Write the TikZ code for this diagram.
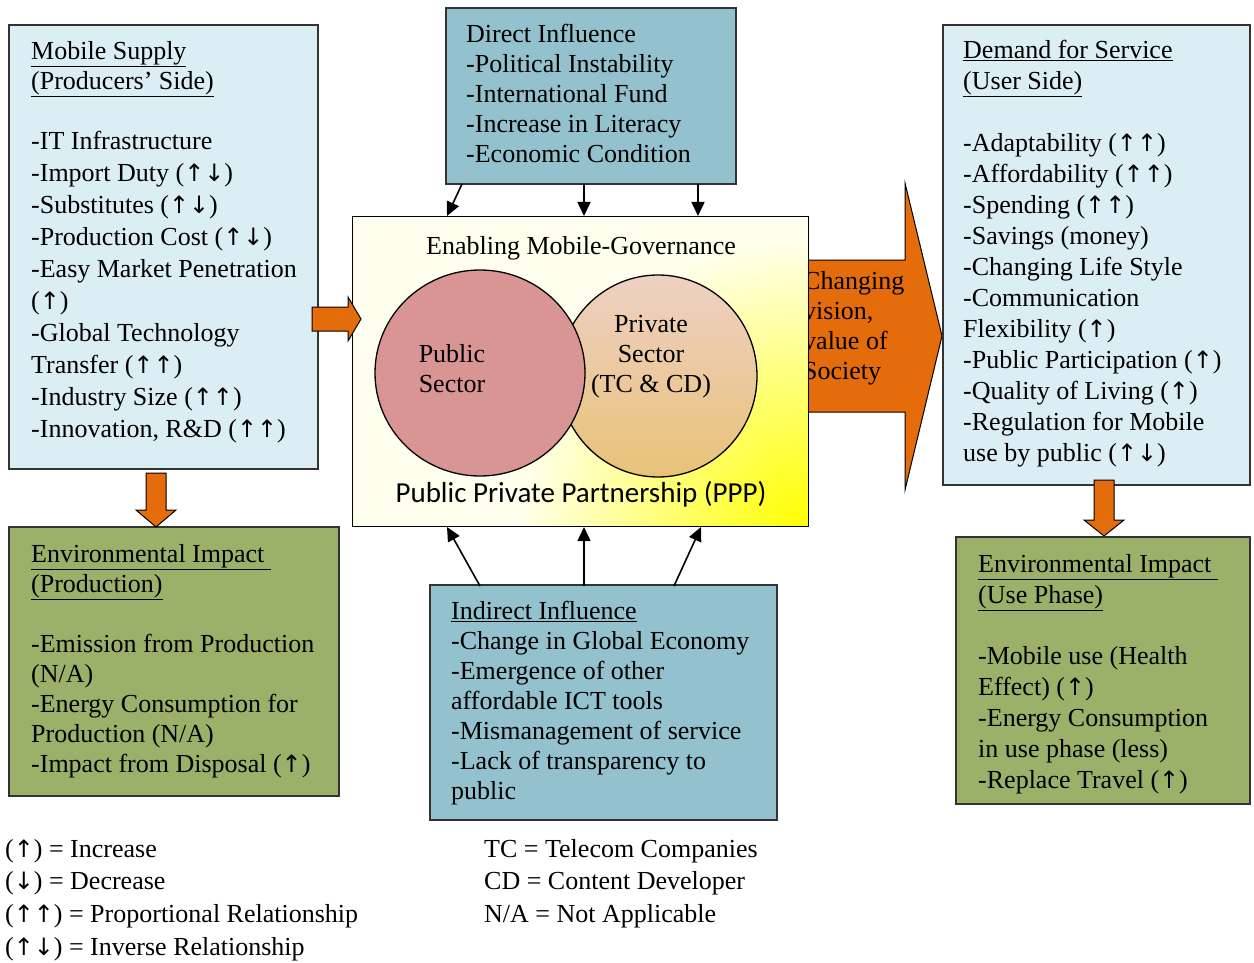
\documentclass[tikz,border=0pt]{standalone}
\usepackage{fontspec}
\setmainfont{Liberation Serif}
\newfontfamily\calib{Carlito}
\newfontfamily\arr{DejaVu Sans}[Scale=0.92]
\usetikzlibrary{arrows.meta}
\definecolor{lblue}{RGB}{219,238,243}
\definecolor{mblue}{RGB}{147,193,205}
\definecolor{olive}{RGB}{155,176,104}
\definecolor{orng}{RGB}{228,108,10}
\definecolor{pubpink}{RGB}{217,149,148}
\definecolor{privtop}{RGB}{238,208,196}
\definecolor{privbot}{RGB}{233,194,120}
\definecolor{cream}{RGB}{255,255,238}
\newcommand\myup{{\arr ↑}}
\newcommand\mydn{{\arr ↓}}
\tikzset{
  boxA/.style={draw=black!80, line width=1.2pt, fill=lblue},
  boxB/.style={draw=black!80, line width=1.2pt, fill=mblue},
  boxC/.style={draw=black!80, line width=1.2pt, fill=olive},
  txt/.style={anchor=north west, inner sep=0pt, align=left},
  fs30/.style={font=\fontsize{26}{30}\selectfont},
  fs31/.style={font=\fontsize{26}{31}\selectfont},
  fs32/.style={font=\fontsize{26}{32}\selectfont},
  blk/.style={-{Triangle[length=14pt,width=13pt]}, line width=1.6pt},
  oarrow/.style={fill=orng, draw=black, line width=1pt, line join=miter},
}
\begin{document}
\begin{tikzpicture}[x=1pt,y=-1pt]
\useasboundingbox (0,0) rectangle (1254,963);

% big orange arrow (drawn first, partly covered by the PPP box)
\draw[oarrow] (790,260) -- (905,260) -- (905,183) -- (942,336) -- (905,490) -- (905,412) -- (790,412) -- cycle;
\node[anchor=north west, inner sep=0pt, align=left, font=\fontsize{26}{30}\selectfont] (chg) at (803,271) {Changing\\vision,\\value of\\Society};

% boxes
\draw[boxA] (9,25) rectangle (318,469);
\draw[boxB] (446,8) rectangle (736,184);
\draw[boxA] (943,25) rectangle (1250,485);
\draw[boxC] (9,527) rectangle (339,796);
\draw[boxB] (430,585) rectangle (777,820);
\draw[boxC] (956,537) rectangle (1250,804);

% central box
\fill[cream] (352,216) rectangle (808,526);
\begin{scope}
  \clip (352,216) rectangle (808,526);
  \shade[inner color=yellow, outer color=cream] (808,526) circle (290);
\end{scope}
\node[draw=black, line width=1.2pt, minimum width=456pt, minimum height=310pt, inner sep=0pt, anchor=north west] (ppp) at (352,216) {};

\node[font=\fontsize{26}{30}\selectfont, inner sep=0pt] (enab) at (581,248) {Enabling Mobile-Governance};

% circles
\shade[top color=privtop, bottom color=privbot, draw=black, line width=1.3pt] (658,376) ellipse (99 and 101);
\node[circle, minimum size=200pt, inner sep=0pt] (priv) at (658,376) {};
\draw[fill=pubpink, line width=1.3pt] (480,373) ellipse (105 and 103);
\node[circle, minimum size=208pt, inner sep=0pt] (pub) at (480,373) {};
\node[font=\fontsize{26}{30}\selectfont, align=center, inner sep=0pt] (publbl) at (452,369) {Public\\Sector};
\node[font=\fontsize{26}{30}\selectfont, align=center, inner sep=0pt] (privlbl) at (651,357) {Private\\Sector\\(TC \& CD)};
\node[font=\calib\fontsize{29}{32}\selectfont, inner sep=0pt] (ppplbl) at (581,494) {Public Private Partnership (PPP)};

% small orange arrows
\draw[oarrow] (312,307) -- (348,307) -- (348,297) -- (361,319) -- (348,341) -- (348,331) -- (312,331) -- cycle;
\draw[oarrow] (146,473) -- (166,473) -- (166,510) -- (176,510) -- (156,527) -- (136,510) -- (146,510) -- cycle;
\draw[oarrow] (1094,480) -- (1114,480) -- (1114,520) -- (1124,520) -- (1104,536) -- (1084,520) -- (1094,520) -- cycle;

% texts
\node[txt, fs32] (ms) at (31,41) {\underline{Mobile Supply}\\[-2pt]
\underline{(Producers' Side)}\\[28pt]
-IT Infrastructure\\
-Import Duty (\myup\mydn)\\
-Substitutes (\myup\mydn)\\
-Production Cost (\myup\mydn)\\
-Easy Market Penetration\\
(\myup)\\
-Global Technology\\
Transfer (\myup\myup)\\
-Industry Size (\myup\myup)\\
-Innovation, R\&D (\myup\myup)};

\node[txt, fs30] (di) at (466,24) {Direct Influence\\
-Political Instability\\
-International Fund\\
-Increase in Literacy\\
-Economic Condition};

\node[txt, fs31] (dem) at (963,40) {\underline{Demand for Service}\\
\underline{(User Side)}\\[31pt]
-Adaptability (\myup\myup)\\
-Affordability (\myup\myup)\\
-Spending (\myup\myup)\\
-Savings (money)\\
-Changing Life Style\\
-Communication\\
Flexibility (\myup)\\
-Public Participation (\myup)\\
-Quality of Living (\myup)\\
-Regulation for Mobile\\
use by public (\myup\mydn)};

\node[txt, fs30] (eip) at (31,544) {\underline{Environmental Impact }\\
\underline{(Production)}\\[30pt]
-Emission from Production\\
(N/A)\\
-Energy Consumption for\\
Production (N/A)\\
-Impact from Disposal (\myup)};

\node[txt, fs30] (ii) at (451,601) {\underline{Indirect Influence}\\
-Change in Global Economy\\
-Emergence of other\\
affordable ICT tools\\
-Mismanagement of service\\
-Lack of transparency to\\
public};

\node[txt, fs31] (eiu) at (978,554) {\underline{Environmental Impact }\\
\underline{(Use Phase)}\\[30pt]
-Mobile use (Health\\
Effect) (\myup)\\
-Energy Consumption\\
in use phase (less)\\
-Replace Travel (\myup)};

% legends
\node[txt, font=\fontsize{26}{32.7}\selectfont] (leg1) at (5,839) {(\myup) = Increase\\
(\mydn) = Decrease\\
(\myup\myup) = Proportional Relationship\\
(\myup\mydn) = Inverse Relationship};
\node[txt, font=\fontsize{26}{32.7}\selectfont] (leg2) at (484,839) {TC = Telecom Companies\\
CD = Content Developer\\
N/A = Not Applicable};

% black arrows
\coordinate (d1) at (462,184); \coordinate (d2) at (584,184); \coordinate (d3) at (698,184);
\coordinate (p1) at (447,216); \coordinate (p2) at (584,216); \coordinate (p3) at (698,216);
\draw[blk] (d1) -- (p1);
\draw[blk] (d2) -- (p2);
\draw[blk] (d3) -- (p3);
\coordinate (i1) at (480,586); \coordinate (i2) at (584,586); \coordinate (i3) at (674,586);
\coordinate (q1) at (447,527); \coordinate (q2) at (584,527); \coordinate (q3) at (701,527);
\draw[blk] (i1) -- (q1);
\draw[blk] (i2) -- (q2);
\draw[blk] (i3) -- (q3);
\end{tikzpicture}
\end{document}
